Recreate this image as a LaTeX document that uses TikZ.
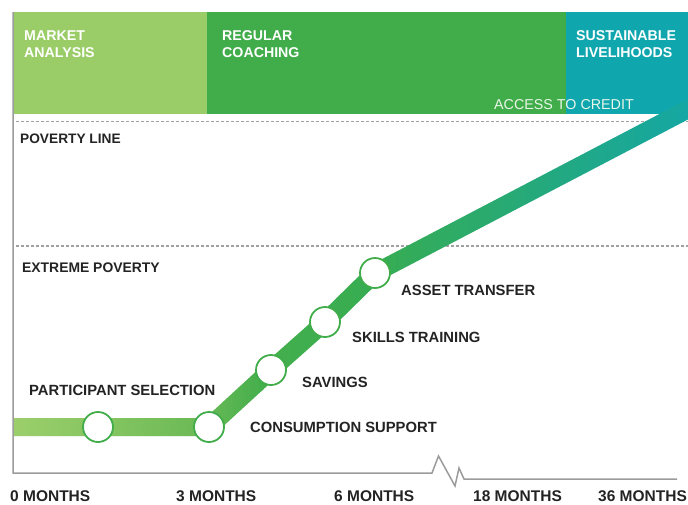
\documentclass[tikz,border=0pt]{standalone}
\usepackage{fontspec}
\setmainfont{Liberation Sans}
\definecolor{lgreen}{HTML}{9ACD67}
\definecolor{mgreen}{HTML}{41AD4A}
\definecolor{bandteal}{HTML}{10A6AE}
\definecolor{txt}{HTML}{232323}
\definecolor{axisgray}{HTML}{9B9B9B}
\definecolor{dashgray}{HTML}{A0A0A0}
\definecolor{sa}{HTML}{9CCF6B}
\definecolor{sb}{HTML}{6BBA56}
\definecolor{sc}{HTML}{45AF4C}
\definecolor{sd}{HTML}{36AC53}
\definecolor{se}{HTML}{11A6AC}
\definecolor{credittxt}{HTML}{EAF6EA}
\begin{document}
\begin{tikzpicture}[x=1pt,y=-1pt,
  lbl/.style={anchor=base west, inner sep=0pt, text=txt, font=\fontsize{14.8}{16}\selectfont\bfseries},
  bandlbl/.style={anchor=base west, inner sep=0pt, text=white, align=left, font=\fontsize{14.2}{16.8}\selectfont\bfseries},
  axlbl/.style={anchor=base west, inner sep=0pt, text=txt, font=\fontsize{15.5}{16}\selectfont\bfseries},
  stn/.style={circle, draw=mgreen, fill=white, line width=1.8pt, minimum size=30pt, inner sep=0pt},
  dashline/.style={draw=dashgray, line width=1.1pt, dash pattern=on 3pt off 2pt}]
\useasboundingbox (0,0) rectangle (688,504);
% bands
\fill[lgreen] (13,12) rectangle (207,114);
\fill[mgreen] (207,12) rectangle (566,114);
\fill[bandteal] (566,12) rectangle (688,114);
% dashed lines
\coordinate (pvA) at (16,121.5);
\coordinate (pvB) at (688,121.5);
\coordinate (epA) at (16,246);
\coordinate (epB) at (688,246);
\draw[dashline] (pvA) -- (pvB);
\draw[dashline] (epA) -- (epB);
% path points
\coordinate (p0) at (13,427);
\coordinate (p1) at (98,427);
\coordinate (p2) at (209,427);
\coordinate (p3) at (271,370);
\coordinate (p4) at (325,322);
\coordinate (p5) at (375,273);
\coordinate (p6) at (721,92);
% shaded thick line
\foreach \a/\b/\ca/\cb in {13/201/sa/sb, 201/261/sb/sc, 261/381/sc/sd, 381/721/sd/se} {
  \pgfmathtruncatemacro\n{(\b-\a)/2}
  \foreach \k in {0,...,\n} {
    \pgfmathsetmacro\xx{\a+2*\k}
    \pgfmathsetmacro\p{(\k/\n)*100}
    \colorlet{stc}{\cb!\p!\ca}
    \begin{scope}
      \clip (\xx-0.4,0) rectangle (\xx+2.4,504);
      \draw[stc, line width=18pt, line join=round] (p0) -- (p1) -- (p2) -- (p3) -- (p4) -- (p5) -- (p6);
    \end{scope}
  }
}
% axes
\coordinate (axTop) at (13,12);
\coordinate (axCorner) at (13,473);
\coordinate (axEnd) at (677,479);
\draw[axisgray, line width=1.5pt, line join=miter] (axTop) -- (axCorner) -- (432,473) -- (438.5,456) -- (455,486) -- (459,468) -- (464,479) -- (axEnd);
% stations
\node[stn] (c1) at (p1) {};
\node[stn] (c2) at (p2) {};
\node[stn] (c3) at (p3) {};
\node[stn] (c4) at (p4) {};
\node[stn] (c5) at (p5) {};
% band labels
\node[bandlbl] (market) at (24,57) {MARKET\\ANALYSIS};
\node[bandlbl] (coach) at (222,57) {REGULAR\\COACHING};
\node[bandlbl] (sustain) at (576,57) {SUSTAINABLE\\LIVELIHOODS};
\node[anchor=base west, inner sep=0pt, text=credittxt, font=\fontsize{14.3}{16}\selectfont] (credit) at (494,109) {ACCESS TO CREDIT};
% zone labels
\node[lbl, font=\fontsize{13.7}{16}\selectfont\bfseries] (poverty) at (20,143) {POVERTY LINE};
\node[lbl, font=\fontsize{13.9}{16}\selectfont\bfseries] (extreme) at (22,272) {EXTREME POVERTY};
% station labels
\node[lbl] (lsel) at (29,395) {PARTICIPANT SELECTION};
\node[lbl] (lcons) at (250,432) {CONSUMPTION SUPPORT};
\node[lbl] (lsav) at (302,387) {SAVINGS};
\node[lbl] (lskill) at (352,342) {SKILLS TRAINING};
\node[lbl] (lasset) at (401,295) {ASSET TRANSFER};
% axis labels
\node[axlbl] (m0) at (10,501) {0 MONTHS};
\node[axlbl] (m3) at (176,501) {3 MONTHS};
\node[axlbl] (m6) at (334,501) {6 MONTHS};
\node[axlbl] (m18) at (473,501) {18 MONTHS};
\node[axlbl] (m36) at (598,501) {36 MONTHS};
\end{tikzpicture}
\end{document}
